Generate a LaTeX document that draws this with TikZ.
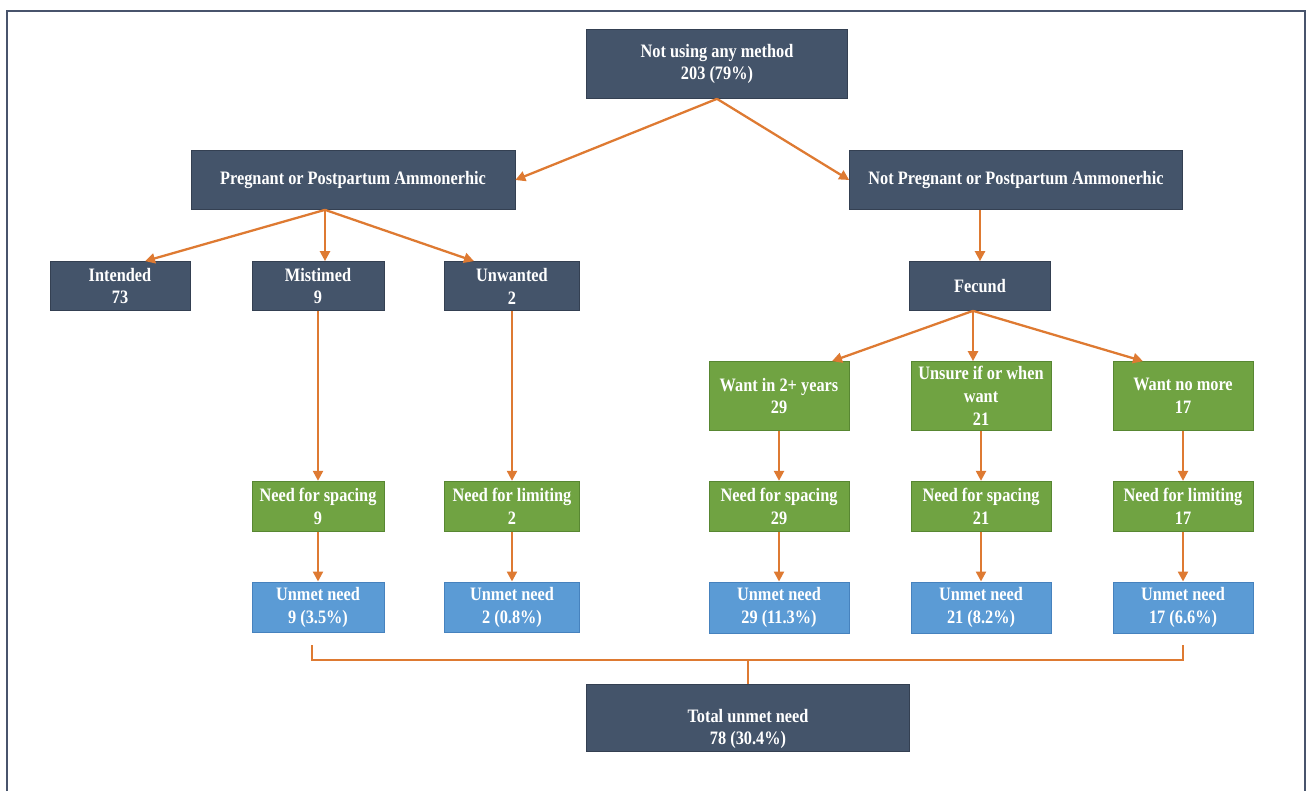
\documentclass[tikz,border=0pt]{standalone}
\usepackage{fontspec}
\setmainfont[FakeStretch=0.86]{Liberation Serif}
\usetikzlibrary{arrows.meta,positioning,calc}
\definecolor{slate}{RGB}{68,84,106}
\definecolor{slateline}{RGB}{52,64,82}
\definecolor{leaf}{RGB}{112,163,66}
\definecolor{leafline}{RGB}{88,135,50}
\definecolor{sky}{RGB}{91,155,213}
\definecolor{skyline}{RGB}{70,130,190}
\definecolor{flow}{RGB}{222,122,50}
\definecolor{frame}{RGB}{72,84,108}
\newcommand{\boxfont}{\fontsize{10.8}{13}\selectfont\bfseries}
\tikzset{
	darkbox/.style={
		rectangle,
		draw=slateline,
		fill=slate,
		text=white,
		align=center,
		font=\boxfont,
		inner sep=0pt,
	},
	greenbox/.style={
		darkbox,
		draw=leafline,
		fill=leaf,
		minimum width=2.8cm,
	},
	bluebox/.style={
		darkbox,
		draw=skyline,
		fill=sky,
		minimum width=2.8cm,
		minimum height=1.02cm,
	},
	flowline/.style={
		draw=flow,
		line width=1.3pt,
	}
}

\begin{document}
\begin{tikzpicture}[x=0.02cm,y=-0.02cm,node distance=1cm,>={Triangle[length=2mm,width=2mm]}]
	\useasboundingbox (0,0) rectangle (1307,791);
	\draw[frame,line width=1.4pt] (7,791) -- (7,11) -- (1305,11) -- (1305,791);

	\node [darkbox,minimum width=5.22cm,minimum height=1.38cm] (nouse) at (717,64) {Not using any method\\203 (79\%)};
	\node [darkbox,minimum width=6.48cm,minimum height=1.18cm] (preg) at (353,180) {Pregnant or Postpartum Ammonerhic};
	\node [darkbox,minimum width=6.66cm,minimum height=1.18cm] (notpreg) at (1016,180) {Not Pregnant or Postpartum Ammonerhic};

	\node [darkbox,minimum width=2.8cm,minimum height=0.98cm] (intended) at (120,286) {Intended\\73};
	\node [darkbox,minimum width=2.64cm,minimum height=0.98cm] (mistimed) at (318,286) {Mistimed\\9};
	\node [darkbox,minimum width=2.7cm,minimum height=0.98cm] (unwanted) at (512,286) {Unwanted\\2};
	\node [darkbox,minimum width=2.82cm,minimum height=0.98cm] (fecund) at (980,286) {Fecund};

	\node [greenbox,minimum height=1.38cm] (want2) at (779,396) {Want in 2+ years\\29};
	\node [greenbox,minimum height=1.38cm] (unsure) at (981,396) {Unsure if or when\\want\\21};
	\node [greenbox,minimum height=1.38cm] (wantno) at (1183,396) {Want no more\\17};

	\node [greenbox,minimum width=2.64cm,minimum height=1cm] (needsp1) [below=3.4cm of mistimed] {Need for spacing\\9};
	\node [greenbox,minimum width=2.7cm,minimum height=1cm] (needlim1) [below=3.4cm of unwanted] {Need for limiting\\2};
	\node [greenbox,minimum height=1cm] (needsp2) [below=of want2] {Need for spacing\\29};
	\node [greenbox,minimum height=1cm] (needsp3) [below=of unsure] {Need for spacing\\21};
	\node [greenbox,minimum height=1cm] (needlim2) [below=of wantno] {Need for limiting\\17};

	\node [bluebox,minimum width=2.64cm] (unmet1) [below=of needsp1] {Unmet need\\9 (3.5\%)};
	\node [bluebox,minimum width=2.7cm] (unmet2) [below=of needlim1] {Unmet need\\2 (0.8\%)};
	\node [bluebox] (unmet3) [below=of needsp2] {Unmet need\\29 (11.3\%)};
	\node [bluebox] (unmet4) [below=of needsp3] {Unmet need\\21 (8.2\%)};
	\node [bluebox] (unmet5) [below=of needlim2] {Unmet need\\17 (6.6\%)};

	\node [darkbox,minimum width=6.46cm,minimum height=1.34cm] (total) at (748,718) {};
	\node [text=white,align=center,font=\boxfont,inner sep=0pt] (totaltext) at ($(total.center)+(0,11)$) {Total unmet need\\78 (30.4\%)};

	% arrows down the tree
	\draw[flowline,->] (nouse.south) -- (preg.east);
	\draw[flowline,->] (nouse.south) -- (notpreg.west);
	\coordinate (pregfoot) at ($(preg.south)+(-28,0)$);
	\draw[flowline,->] (pregfoot) -- ($(intended.north)+(25,0)$);
	\draw[flowline,->] (pregfoot) -- (pregfoot |- mistimed.north);
	\draw[flowline,->] (pregfoot) -- ($(unwanted.north)+(-38,0)$);
	\draw[flowline,->] (fecund.north |- notpreg.south) -- (fecund.north);
	\coordinate (fecfoot) at ($(fecund.south)+(-7,0)$);
	\draw[flowline,->] (fecfoot) -- ($(want2.north)+(53,0)$);
	\draw[flowline,->] (fecfoot) -- (fecfoot |- unsure.north);
	\draw[flowline,->] (fecfoot) -- ($(wantno.north)+(-40,0)$);

	\foreach \a/\b in {mistimed/needsp1,unwanted/needlim1,want2/needsp2,unsure/needsp3,wantno/needlim2,
		needsp1/unmet1,needlim1/unmet2,needsp2/unmet3,needsp3/unmet4,needlim2/unmet5}
		\draw[flowline,->] (\a.south) -- (\b.north);

	% bracket to the total
	\coordinate (brl) at ($(unmet1.south)+(-6,12)$);
	\coordinate (brr) at ($(unmet5.south)+(0,12)$);
	\draw[flowline] (brl) -- ++(0,15) -| (brr);
	\draw[flowline] (total.north |- 0,660) -- (total.north);
\end{tikzpicture}
\end{document}
